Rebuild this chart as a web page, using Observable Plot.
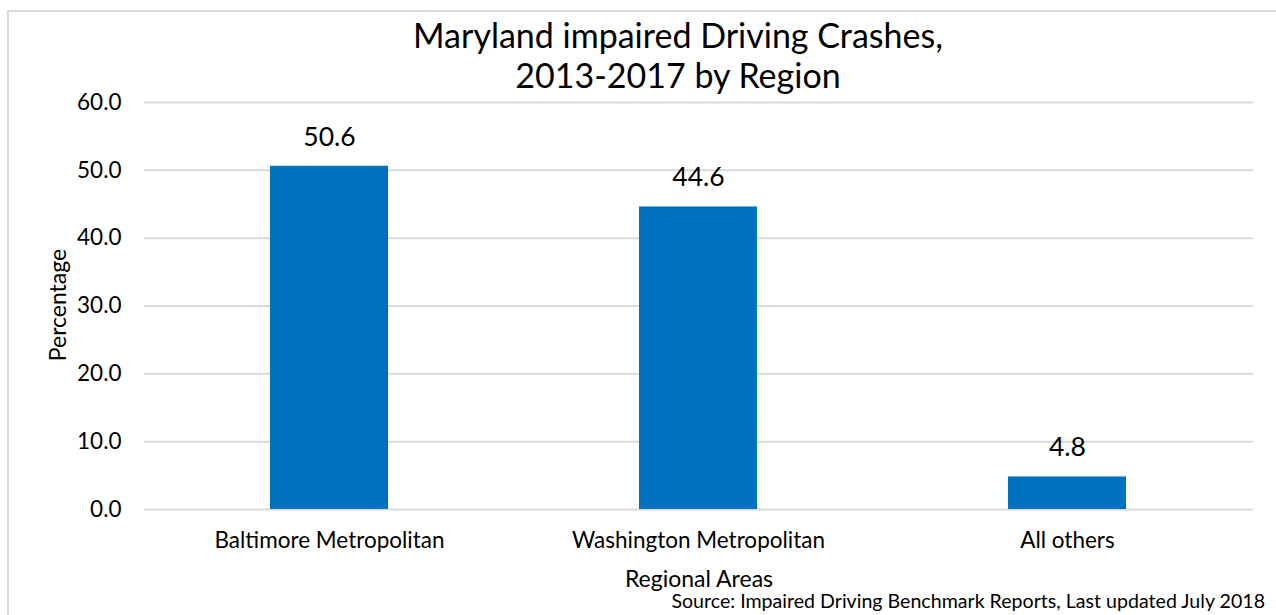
<!DOCTYPE html>
<html>
<head>
<meta charset="utf-8">
<script src="https://cdn.jsdelivr.net/npm/d3@7"></script>
<script src="https://cdn.jsdelivr.net/npm/@observablehq/plot@0.6"></script>
<style>
  html, body { margin: 0; padding: 0; background: #fff; }
  #wrap { position: relative; width: 1276px; height: 615px; overflow: hidden; font-family: Lato, "Open Sans", sans-serif; color: #000; }
  #border { position: absolute; left: 7px; top: 10px; width: 1300px; height: 700px; border: 2px solid #d9d9d9; box-sizing: border-box; }
  #chart, #overlay { position: absolute; left: 0; top: 0; }
</style>
</head>
<body>
<div id="wrap">
  <div id="border"></div>
  <div id="chart"></div>
  <svg id="overlay" width="1276" height="615"></svg>
</div>
<script>
const regions = ["Baltimore Metropolitan", "Washington Metropolitan", "All others"];
const percentages = [50.6, 44.6, 4.8];
const yTicks = [0, 10, 20, 30, 40, 50, 60];
const titleLines = ["Maryland impaired Driving Crashes,", "2013-2017 by Region"];
const xTitle = "Regional Areas";
const yTitle = "Percentage";
const sourceText = "Source: Impaired Driving Benchmark Reports, Last updated July 2018";

const data = regions.map((r, i) => ({region: r, value: percentages[i]}));
const font = "Lato, 'Open Sans', sans-serif";

const chart = Plot.plot({
  width: 1276,
  height: 615,
  marginLeft: 144,
  marginRight: 23,
  marginTop: 102,
  marginBottom: 106,
  style: {fontFamily: font, color: "#000", background: "transparent"},
  x: {domain: regions, paddingInner: 0.68, paddingOuter: 0.34},
  y: {domain: [0, 60], ticks: yTicks},
  marks: [
    Plot.gridY(yTicks, {stroke: "#d9d9d9", strokeOpacity: 1, strokeWidth: 2}),
    Plot.barY(data, {x: "region", y: "value", fill: "#0070c0"}),
    Plot.text(data, {x: "region", y: "value", text: d => d.value.toFixed(1), dy: -29, fontSize: 26.5, fill: "#000"}),
    Plot.axisY(yTicks, {tickSize: 0, tickPadding: 23, tickFormat: d => d.toFixed(1), fontSize: 22.5, label: null}),
    Plot.axisX({tickSize: 0, tickPadding: 23, fontSize: 22.5, label: null})
  ]
});
document.getElementById("chart").appendChild(chart);

const ov = d3.select("#overlay").attr("font-family", font).attr("fill", "#000");
ov.selectAll("text.title").data(titleLines).join("text")
  .attr("class", "title")
  .attr("x", 678).attr("y", (d, i) => 48 + i * 39.5)
  .attr("text-anchor", "middle").attr("font-size", 34).text(d => d);
ov.append("text").attr("x", 699).attr("y", 587).attr("text-anchor", "middle").attr("font-size", 23).text(xTitle);
ov.append("text").attr("transform", "translate(66,305) rotate(-90)").attr("text-anchor", "middle").attr("font-size", 23).text(yTitle);
ov.append("text").attr("x", 1265).attr("y", 608).attr("text-anchor", "end").attr("font-size", 19.6).text(sourceText);
</script>
</body>
</html>
